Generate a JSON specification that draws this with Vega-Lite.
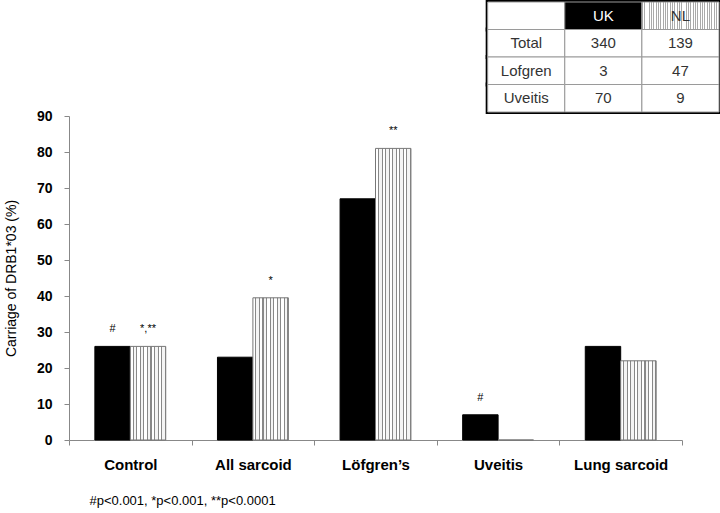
{
  "$schema": "https://vega.github.io/schema/vega-lite/v6.json",
  "padding": {"left": 4, "top": 0, "right": 0, "bottom": 5},
  "spacing": 4,
  "bounds": "flush",
  "config": {
    "font": "Liberation Sans",
    "view": {"stroke": null}
  },
  "vconcat": [
    {
      "width": 650,
      "height": 110,
      "data": {"values": [
        {"row": "h", "col": "label", "text": ""},
        {"row": "h", "col": "UK", "text": "UK"},
        {"row": "h", "col": "NL", "text": "NL"},
        {"row": "Total", "col": "label", "text": "Total"},
        {"row": "Total", "col": "UK", "text": "340"},
        {"row": "Total", "col": "NL", "text": "139"},
        {"row": "Lofgren", "col": "label", "text": "Lofgren"},
        {"row": "Lofgren", "col": "UK", "text": "3"},
        {"row": "Lofgren", "col": "NL", "text": "47"},
        {"row": "Uveitis", "col": "label", "text": "Uveitis"},
        {"row": "Uveitis", "col": "UK", "text": "70"},
        {"row": "Uveitis", "col": "NL", "text": "9"}
      ]},
      "encoding": {
        "x": {"field": "col", "type": "nominal", "axis": null,
              "scale": {"domain": ["s1", "s2", "s3", "s4", "s5", "label", "UK", "NL"], "paddingInner": 0, "paddingOuter": 0.215, "align": 1}},
        "y": {"field": "row", "type": "nominal", "axis": null,
              "scale": {"domain": ["h", "Total", "Lofgren", "Uveitis"], "paddingInner": 0, "paddingOuter": 0}}
      },
      "layer": [
        {"mark": {"type": "rect", "fill": null, "stroke": "black", "strokeWidth": 4}},
        {
          "mark": {"type": "rect", "stroke": "#9a9a9a", "strokeWidth": 1},
          "encoding": {
            "fill": {
              "condition": [
                {"test": "datum.row === 'h' && datum.col === 'UK'", "value": "black"},
                {"test": "datum.row === 'h' && datum.col === 'NL'", "value": {
                  "gradient": "linear", "x1": 0, "x2": 1, "y1": 0, "y2": 0,
                  "stops": [
                    {"offset": 0, "color": "#aaa"}, {"offset": 0.012, "color": "#aaa"}, {"offset": 0.012, "color": "#fff"}, {"offset": 0.03, "color": "#fff"},
                    {"offset": 0.03, "color": "#aaa"}, {"offset": 0.042, "color": "#aaa"}, {"offset": 0.042, "color": "#fff"}, {"offset": 0.06, "color": "#fff"},
                    {"offset": 0.06, "color": "#aaa"}, {"offset": 0.072, "color": "#aaa"}, {"offset": 0.072, "color": "#fff"}, {"offset": 0.09, "color": "#fff"},
                    {"offset": 0.09, "color": "#aaa"}, {"offset": 0.102, "color": "#aaa"}, {"offset": 0.102, "color": "#fff"}, {"offset": 0.12, "color": "#fff"},
                    {"offset": 0.12, "color": "#aaa"}, {"offset": 0.132, "color": "#aaa"}, {"offset": 0.132, "color": "#fff"}, {"offset": 0.15, "color": "#fff"},
                    {"offset": 0.15, "color": "#aaa"}, {"offset": 0.162, "color": "#aaa"}, {"offset": 0.162, "color": "#fff"}, {"offset": 0.18, "color": "#fff"},
                    {"offset": 0.18, "color": "#aaa"}, {"offset": 0.192, "color": "#aaa"}, {"offset": 0.192, "color": "#fff"}, {"offset": 0.21, "color": "#fff"},
                    {"offset": 0.21, "color": "#aaa"}, {"offset": 0.222, "color": "#aaa"}, {"offset": 0.222, "color": "#fff"}, {"offset": 0.24, "color": "#fff"},
                    {"offset": 0.24, "color": "#aaa"}, {"offset": 0.252, "color": "#aaa"}, {"offset": 0.252, "color": "#fff"}, {"offset": 0.27, "color": "#fff"},
                    {"offset": 0.27, "color": "#aaa"}, {"offset": 0.282, "color": "#aaa"}, {"offset": 0.282, "color": "#fff"}, {"offset": 0.30, "color": "#fff"},
                    {"offset": 0.30, "color": "#aaa"}, {"offset": 0.312, "color": "#aaa"}, {"offset": 0.312, "color": "#fff"}, {"offset": 0.33, "color": "#fff"},
                    {"offset": 0.33, "color": "#aaa"}, {"offset": 0.342, "color": "#aaa"}, {"offset": 0.342, "color": "#fff"}, {"offset": 0.36, "color": "#fff"},
                    {"offset": 0.36, "color": "#aaa"}, {"offset": 0.372, "color": "#aaa"}, {"offset": 0.372, "color": "#fff"}, {"offset": 0.39, "color": "#fff"},
                    {"offset": 0.39, "color": "#aaa"}, {"offset": 0.402, "color": "#aaa"}, {"offset": 0.402, "color": "#fff"}, {"offset": 0.42, "color": "#fff"},
                    {"offset": 0.42, "color": "#aaa"}, {"offset": 0.432, "color": "#aaa"}, {"offset": 0.432, "color": "#fff"}, {"offset": 0.45, "color": "#fff"},
                    {"offset": 0.45, "color": "#aaa"}, {"offset": 0.462, "color": "#aaa"}, {"offset": 0.462, "color": "#fff"}, {"offset": 0.48, "color": "#fff"},
                    {"offset": 0.48, "color": "#aaa"}, {"offset": 0.492, "color": "#aaa"}, {"offset": 0.492, "color": "#fff"}, {"offset": 0.51, "color": "#fff"},
                    {"offset": 0.51, "color": "#aaa"}, {"offset": 0.522, "color": "#aaa"}, {"offset": 0.522, "color": "#fff"}, {"offset": 0.54, "color": "#fff"},
                    {"offset": 0.54, "color": "#aaa"}, {"offset": 0.552, "color": "#aaa"}, {"offset": 0.552, "color": "#fff"}, {"offset": 0.57, "color": "#fff"},
                    {"offset": 0.57, "color": "#aaa"}, {"offset": 0.582, "color": "#aaa"}, {"offset": 0.582, "color": "#fff"}, {"offset": 0.60, "color": "#fff"},
                    {"offset": 0.60, "color": "#aaa"}, {"offset": 0.612, "color": "#aaa"}, {"offset": 0.612, "color": "#fff"}, {"offset": 0.63, "color": "#fff"},
                    {"offset": 0.63, "color": "#aaa"}, {"offset": 0.642, "color": "#aaa"}, {"offset": 0.642, "color": "#fff"}, {"offset": 0.66, "color": "#fff"},
                    {"offset": 0.66, "color": "#aaa"}, {"offset": 0.672, "color": "#aaa"}, {"offset": 0.672, "color": "#fff"}, {"offset": 0.69, "color": "#fff"},
                    {"offset": 0.69, "color": "#aaa"}, {"offset": 0.702, "color": "#aaa"}, {"offset": 0.702, "color": "#fff"}, {"offset": 0.72, "color": "#fff"},
                    {"offset": 0.72, "color": "#aaa"}, {"offset": 0.732, "color": "#aaa"}, {"offset": 0.732, "color": "#fff"}, {"offset": 0.75, "color": "#fff"},
                    {"offset": 0.75, "color": "#aaa"}, {"offset": 0.762, "color": "#aaa"}, {"offset": 0.762, "color": "#fff"}, {"offset": 0.78, "color": "#fff"},
                    {"offset": 0.78, "color": "#aaa"}, {"offset": 0.792, "color": "#aaa"}, {"offset": 0.792, "color": "#fff"}, {"offset": 0.81, "color": "#fff"},
                    {"offset": 0.81, "color": "#aaa"}, {"offset": 0.822, "color": "#aaa"}, {"offset": 0.822, "color": "#fff"}, {"offset": 0.84, "color": "#fff"},
                    {"offset": 0.84, "color": "#aaa"}, {"offset": 0.852, "color": "#aaa"}, {"offset": 0.852, "color": "#fff"}, {"offset": 0.87, "color": "#fff"},
                    {"offset": 0.87, "color": "#aaa"}, {"offset": 0.882, "color": "#aaa"}, {"offset": 0.882, "color": "#fff"}, {"offset": 0.90, "color": "#fff"},
                    {"offset": 0.90, "color": "#aaa"}, {"offset": 0.912, "color": "#aaa"}, {"offset": 0.912, "color": "#fff"}, {"offset": 0.93, "color": "#fff"},
                    {"offset": 0.93, "color": "#aaa"}, {"offset": 0.942, "color": "#aaa"}, {"offset": 0.942, "color": "#fff"}, {"offset": 0.96, "color": "#fff"},
                    {"offset": 0.96, "color": "#aaa"}, {"offset": 0.972, "color": "#aaa"}, {"offset": 0.972, "color": "#fff"}, {"offset": 1, "color": "#fff"}
                  ]
                }}
              ],
              "value": "white"
            }
          }
        },
        {
          "mark": {"type": "text", "fontSize": 15},
          "encoding": {
            "text": {"field": "text"},
            "color": {"condition": {"test": "datum.row === 'h' && datum.col === 'UK'", "value": "white"}, "value": "#333"},
            "fontWeight": {"condition": {"test": "datum.row === 'h' && datum.col === 'UK'", "value": "bold"}, "value": "normal"}
          }
        }
      ]
    },
    {
      "width": 613,
      "height": 324,
      "data": {"values": [
        {"category": "Control", "group": "UK", "value": 26, "note": "#"},
        {"category": "Control", "group": "NL", "value": 26, "note": "*,**"},
        {"category": "All sarcoid", "group": "UK", "value": 23, "note": ""},
        {"category": "All sarcoid", "group": "NL", "value": 39.5, "note": "*"},
        {"category": "Löfgren’s", "group": "UK", "value": 67, "note": ""},
        {"category": "Löfgren’s", "group": "NL", "value": 81, "note": "**"},
        {"category": "Uveitis", "group": "UK", "value": 7, "note": "#"},
        {"category": "Uveitis", "group": "NL", "value": 0, "note": ""},
        {"category": "Lung sarcoid", "group": "UK", "value": 26, "note": ""},
        {"category": "Lung sarcoid", "group": "NL", "value": 22, "note": ""}
      ]},
      "encoding": {
        "x": {
          "field": "category", "type": "nominal", "sort": null,
          "scale": {"paddingInner": 0, "paddingOuter": 0},
          "axis": {
            "title": "#p<0.001, *p<0.001, **p<0.0001",
            "titleFontSize": 13, "titleFontWeight": "normal", "titleColor": "black",
            "titleAnchor": "start", "titleX": 20, "titlePadding": 22,
            "labelAngle": 0, "labelFontSize": 15, "labelFontWeight": "bold", "labelColor": "black",
            "labelPadding": 12, "tickBand": "extent", "tickSize": 5,
            "tickColor": "#888", "domainColor": "#888"
          }
        },
        "xOffset": {"field": "group", "type": "nominal",
                    "scale": {"domain": ["UK", "NL"], "paddingInner": 0, "paddingOuter": 0.73}},
        "y": {
          "field": "value", "type": "quantitative",
          "scale": {"domain": [0, 90], "nice": false},
          "axis": {
            "title": "Carriage of DRB1*03 (%)", "titleFontSize": 14, "titleFontWeight": "normal", "titleColor": "black",
            "values": [0, 10, 20, 30, 40, 50, 60, 70, 80, 90],
            "grid": false, "labelFontSize": 14, "labelFontWeight": "bold", "labelColor": "black",
            "tickSize": 5, "tickColor": "#888", "domainColor": "#888", "labelPadding": 12, "titlePadding": 18
          }
        }
      },
      "layer": [
        {
          "mark": {"type": "bar", "strokeWidth": 1},
          "encoding": {
            "stroke": {"condition": {"test": "datum.group === 'UK'", "value": "black"}, "value": "#777"},
            "fill": {
              "condition": {"test": "datum.group === 'UK'", "value": "black"},
              "value": {
                "gradient": "linear", "x1": 0, "x2": 1, "y1": 0, "y2": 0,
                "stops": [
                  {"offset": 0, "color": "#fff"}, {"offset": 0.07, "color": "#fff"}, {"offset": 0.07, "color": "#888"}, {"offset": 0.1, "color": "#888"},
                  {"offset": 0.1, "color": "#f4f4f4"}, {"offset": 0.17, "color": "#f4f4f4"}, {"offset": 0.17, "color": "#888"}, {"offset": 0.2, "color": "#888"},
                  {"offset": 0.2, "color": "#fff"}, {"offset": 0.27, "color": "#fff"}, {"offset": 0.27, "color": "#888"}, {"offset": 0.3, "color": "#888"},
                  {"offset": 0.3, "color": "#f4f4f4"}, {"offset": 0.37, "color": "#f4f4f4"}, {"offset": 0.37, "color": "#888"}, {"offset": 0.4, "color": "#888"},
                  {"offset": 0.4, "color": "#fff"}, {"offset": 0.47, "color": "#fff"}, {"offset": 0.47, "color": "#888"}, {"offset": 0.5, "color": "#888"},
                  {"offset": 0.5, "color": "#f4f4f4"}, {"offset": 0.57, "color": "#f4f4f4"}, {"offset": 0.57, "color": "#888"}, {"offset": 0.6, "color": "#888"},
                  {"offset": 0.6, "color": "#fff"}, {"offset": 0.67, "color": "#fff"}, {"offset": 0.67, "color": "#888"}, {"offset": 0.7, "color": "#888"},
                  {"offset": 0.7, "color": "#f4f4f4"}, {"offset": 0.77, "color": "#f4f4f4"}, {"offset": 0.77, "color": "#888"}, {"offset": 0.8, "color": "#888"},
                  {"offset": 0.8, "color": "#fff"}, {"offset": 0.87, "color": "#fff"}, {"offset": 0.87, "color": "#888"}, {"offset": 0.9, "color": "#888"},
                  {"offset": 0.9, "color": "#f4f4f4"}, {"offset": 0.97, "color": "#f4f4f4"}, {"offset": 0.97, "color": "#888"}, {"offset": 1, "color": "#888"}
                ]
              }
            }
          }
        },
        {
          "transform": [{"filter": "datum.note !== ''"}],
          "mark": {"type": "text", "fontSize": 11, "dy": -17, "baseline": "middle", "color": "black"},
          "encoding": {"text": {"field": "note"}}
        }
      ]
    }
  ]
}
